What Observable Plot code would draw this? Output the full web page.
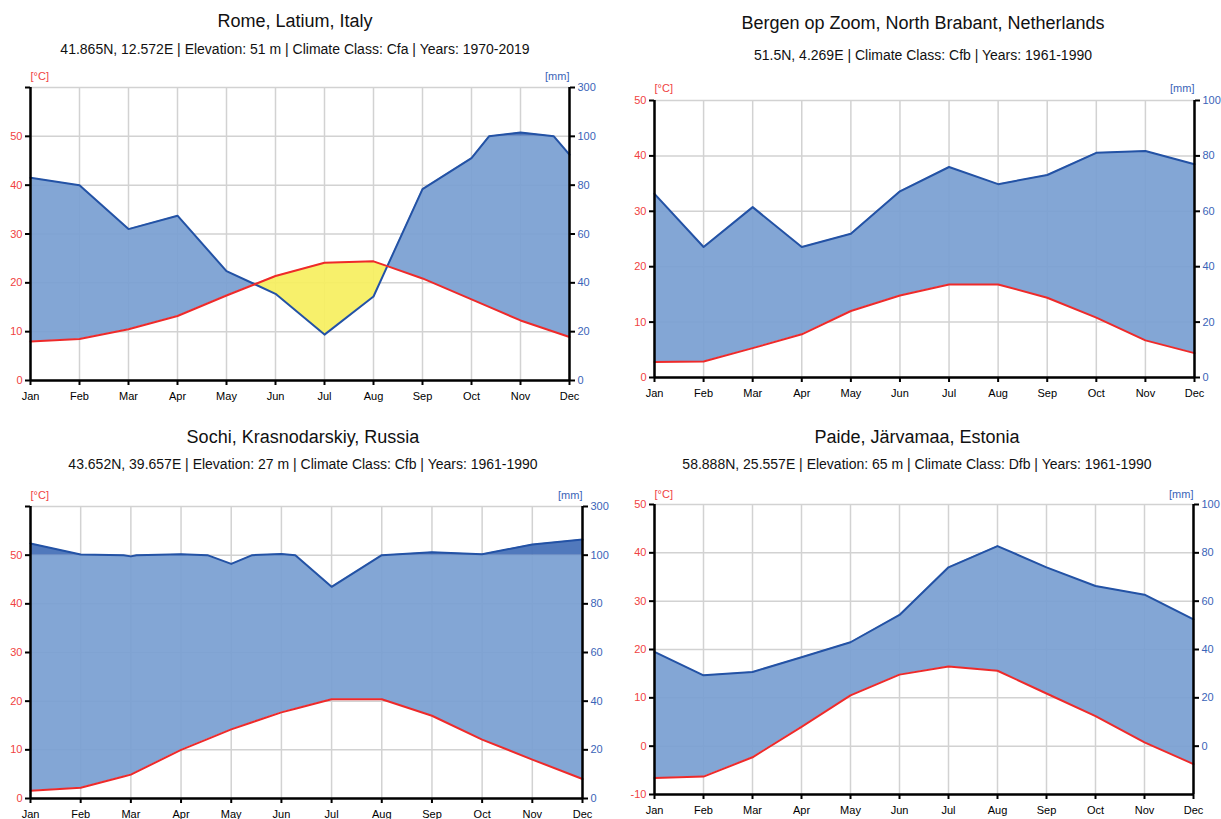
<!DOCTYPE html>
<html>
<head>
<meta charset="utf-8">
<script src="https://cdn.jsdelivr.net/npm/d3@7"></script>
<script src="https://cdn.jsdelivr.net/npm/@observablehq/plot@0.6"></script>
<style>
  html, body { margin: 0; padding: 0; background: #fff; }
  body { width: 1221px; height: 819px; overflow: hidden; position: relative;
         font-family: "Liberation Sans", Arial, Helvetica, sans-serif; }
  .panel { position: absolute; }
  .title, .subtitle { position: absolute; white-space: nowrap; line-height: 1;
         transform: translate(-50%, -50%); color: #111; }
  .title { font-size: 18px; }
  .subtitle { font-size: 14px; }
</style>
</head>
<body>
<script>
// ---------------- data ----------------
const months = ["Jan","Feb","Mar","Apr","May","Jun","Jul","Aug","Sep","Oct","Nov","Dec"];
const unitTemp = "[°C]";
const unitPrecip = "[mm]";

const romeTitle = "Rome, Latium, Italy";
const romeSub = "41.865N, 12.572E | Elevation: 51 m | Climate Class: Cfa | Years: 1970-2019";
const romeTemp = [8.0, 8.5, 10.5, 13.2, 17.4, 21.4, 24.1, 24.4, 20.9, 16.6, 12.3, 8.9];
const romePrecip = [83, 80, 62, 67.5, 44.8, 35.5, 18.8, 34.4, 78.4, 91.1, 116, 92.5];

const bergenTitle = "Bergen op Zoom, North Brabant, Netherlands";
const bergenSub = "51.5N, 4.269E | Climate Class: Cfb | Years: 1961-1990";
const bergenTemp = [2.8, 2.9, 5.3, 7.8, 12.0, 14.8, 16.8, 16.8, 14.4, 10.8, 6.7, 4.4];
const bergenPrecip = [66.3, 47.1, 61.5, 47.1, 51.9, 67.2, 76, 69.8, 73.1, 81.1, 81.8, 77];

const sochiTitle = "Sochi, Krasnodarskiy, Russia";
const sochiSub = "43.652N, 39.657E | Elevation: 27 m | Climate Class: Cfb | Years: 1961-1990";
const sochiTemp = [1.6, 2.2, 4.9, 10.0, 14.2, 17.7, 20.4, 20.4, 17.0, 12.1, 8.0, 4.0];
const sochiPrecip = [148, 103, 99.5, 104, 96.4, 105, 87, 100, 112, 104, 144, 164];

const paideTitle = "Paide, Järvamaa, Estonia";
const paideSub = "58.888N, 25.557E | Elevation: 65 m | Climate Class: Dfb | Years: 1961-1990";
const paideTemp = [-6.6, -6.3, -2.3, 4.0, 10.5, 14.8, 16.5, 15.6, 10.9, 6.2, 0.8, -3.7];
const paidePrecip = [39, 29.3, 30.7, 36.8, 43, 54.3, 74, 82.8, 74, 66.3, 62.7, 52.5];

// tick label sets
const tempTicks60 = [0, 10, 20, 30, 40, 50, 60];
const tempTicks50 = [0, 10, 20, 30, 40, 50];
const tempTicksNeg = [-10, 0, 10, 20, 30, 40, 50];
const mmTicks300 = [0, 20, 40, 60, 80, 100, 300];
const mmTicks100 = [0, 20, 40, 60, 80, 100];

// ---------------- styles ----------------
const RED = "#ee2a2a", RED_TXT = "#f04242";
const BLUE = "#2352a5", BLUE_TXT = "#3a64b8";
const FILL = "rgb(122,159,210)", DARK = "rgb(72,114,184)", YELLOW = "rgb(246,239,96)";
const GRID = "#d2d2d2";

// Walter-Lieth precipitation scale: 2 mm per °C up to 100 mm, compressed (20 mm per °C) above
const mmToY = mm => mm <= 100 ? mm / 2 : 50 + (mm - 100) / 20;
const CAP = mmToY(100);

// geometry helper: adds the points where the drawn lines cross (100 mm and temperature)
function geometry(temp, precip) {
  const pts = [];
  for (let i = 0; i < temp.length; i++) {
    pts.push({x: i, t: temp[i], p: mmToY(precip[i])});
    if (i < temp.length - 1) {
      const a = precip[i], b = precip[i + 1];
      if ((a - 100) * (b - 100) < 0) {
        const f = (100 - a) / (b - a);
        pts.push({x: i + f, t: temp[i] + f * (temp[i + 1] - temp[i]), p: CAP});
      }
    }
  }
  const rows = [];
  for (let k = 0; k < pts.length; k++) {
    const A = pts[k], B = pts[k + 1];
    rows.push(A);
    if (!B) break;
    const da = Math.min(A.p, CAP) - A.t, db = Math.min(B.p, CAP) - B.t;
    if (da * db < 0) {
      const f = da / (da - db);
      rows.push({x: A.x + f * (B.x - A.x), t: A.t + f * (B.t - A.t), p: A.p + f * (B.p - A.p)});
    }
  }
  rows.forEach(r => { r.pc = Math.min(r.p, CAP); });
  return rows;
}

function panel(cfg) {
  const rows = geometry(cfg.temp, cfg.precip);
  const [y0, y1] = cfg.yDomain;
  const leftTicks = cfg.tempTicks;
  const rightTicks = cfg.mmTicks.map(mmToY);
  const font = {fontSize: 11};
  const chart = Plot.plot({
    width: cfg.width, height: cfg.height,
    marginLeft: cfg.mL, marginRight: cfg.mR, marginTop: cfg.mT, marginBottom: cfg.mB,
    style: {fontFamily: '"Liberation Sans", Arial, sans-serif', fontSize: "11px", background: "white", overflow: "visible"},
    x: {domain: [0, months.length - 1], axis: null},
    y: {domain: [y0, y1], axis: null},
    marks: [
      Plot.gridX(d3.range(months.length), {stroke: GRID, strokeOpacity: 1, strokeWidth: 1.5}),
      Plot.gridY(leftTicks, {stroke: GRID, strokeOpacity: 1, strokeWidth: 1.5}),
      Plot.areaY(rows, {x: "x", y1: "t", y2: d => Math.max(d.pc, d.t), fill: FILL, fillOpacity: 0.93}),
      Plot.areaY(rows, {x: "x", y1: "pc", y2: d => Math.max(d.t, d.pc), fill: YELLOW, fillOpacity: 0.93}),
      Plot.areaY(rows, {x: "x", y1: () => CAP, y2: d => Math.max(d.p, CAP), fill: DARK, fillOpacity: 0.95}),
      Plot.line(rows, {x: "x", y: "p", stroke: BLUE, strokeWidth: 2}),
      Plot.line(rows, {x: "x", y: "t", stroke: RED, strokeWidth: 2}),
      Plot.ruleX([0, months.length - 1], {stroke: "black", strokeWidth: 2.5}),
      Plot.ruleY([y0], {stroke: "black", strokeWidth: 2.5}),
      Plot.axisY({anchor: "left", ticks: leftTicks, tickSize: 5, tickPadding: 3,
        tickFormat: d => d > 50 ? "" : String(d), stroke: "black", strokeWidth: 2, fill: RED_TXT, ...font}),
      Plot.axisY({anchor: "right", ticks: rightTicks, tickSize: 5, tickPadding: 3,
        tickFormat: (d, i) => String(cfg.mmTicks[i]), stroke: "black", strokeWidth: 2, fill: BLUE_TXT, ...font}),
      Plot.axisX({ticks: d3.range(months.length), tickSize: 5, tickPadding: 7,
        tickFormat: i => months[i], stroke: "black", strokeWidth: 2, fill: "black", label: null, ...font}),
      Plot.text([unitTemp], {text: d => d, frameAnchor: "top-left", textAnchor: "start", dy: cfg.unitDy, fill: RED_TXT, fontSize: 11}),
      Plot.text([unitPrecip], {text: d => d, frameAnchor: "top-right", textAnchor: "end", dy: cfg.unitDy, fill: BLUE_TXT, fontSize: 11})
    ]
  });
  const div = document.createElement("div");
  div.className = "panel";
  div.style.left = cfg.left + "px";
  div.style.top = cfg.top + "px";
  div.appendChild(chart);
  document.body.appendChild(div);

  const t = document.createElement("div");
  t.className = "title"; t.textContent = cfg.title;
  t.style.left = cfg.cx + "px"; t.style.top = cfg.ty + "px";
  document.body.appendChild(t);
  const s = document.createElement("div");
  s.className = "subtitle"; s.textContent = cfg.sub;
  s.style.left = cfg.cx + "px"; s.style.top = cfg.sy + "px";
  document.body.appendChild(s);
}

panel({title: romeTitle, sub: romeSub, temp: romeTemp, precip: romePrecip,
  yDomain: [0, 60], tempTicks: tempTicks60, mmTicks: mmTicks300,
  left: 0, top: 60, width: 610, height: 345, mL: 30, mR: 41, mT: 27, mB: 25,
  cx: 295, ty: 21, sy: 49, unitDy: -15.5});

panel({title: bergenTitle, sub: bergenSub, temp: bergenTemp, precip: bergenPrecip,
  yDomain: [0, 50], tempTicks: tempTicks50, mmTicks: mmTicks100,
  left: 610, top: 70, width: 611, height: 332, mL: 44, mR: 27, mT: 30, mB: 25,
  cx: 923, ty: 23, sy: 55, unitDy: -16.7});

panel({title: sochiTitle, sub: sochiSub, temp: sochiTemp, precip: sochiPrecip,
  yDomain: [0, 60], tempTicks: tempTicks60, mmTicks: mmTicks300,
  left: 0, top: 478, width: 610, height: 341, mL: 30, mR: 28, mT: 28, mB: 21,
  cx: 303, ty: 437, sy: 464, unitDy: -15.3});

panel({title: paideTitle, sub: paideSub, temp: paideTemp, precip: paidePrecip,
  yDomain: [-10, 50], tempTicks: tempTicksNeg, mmTicks: mmTicks100,
  left: 610, top: 478, width: 611, height: 341, mL: 44, mR: 28, mT: 26, mB: 25,
  cx: 917, ty: 437, sy: 464, unitDy: -14.7});
</script>
</body>
</html>
